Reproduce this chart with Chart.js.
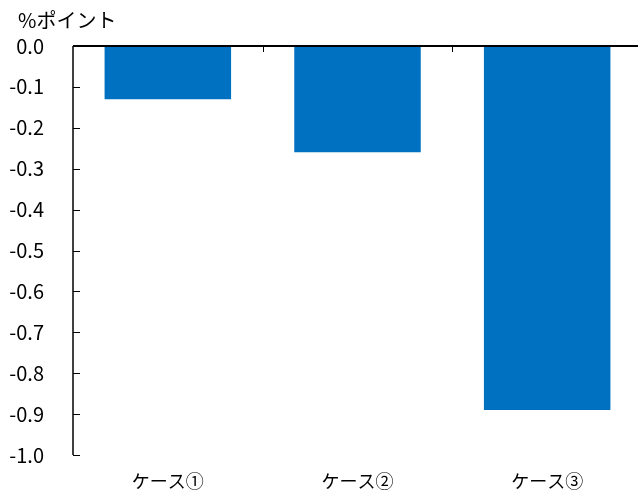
<!DOCTYPE html>
<html>
<head>
<meta charset="utf-8">
<script src="https://cdn.jsdelivr.net/npm/chart.js@4/dist/chart.umd.min.js"></script>
<style>
  html, body { margin: 0; padding: 0; background: #fff; overflow: hidden; }
  #wrap { width: 638px; height: 496px; overflow: hidden; }
</style>
</head>
<body>
<div id="wrap"><canvas id="c" width="642" height="496"></canvas></div>
<script>
// Change in percentage points for each case
const categories = ['ケース①', 'ケース②', 'ケース③'];
const values = [-0.13, -0.26, -0.89];
const unitLabel = '%ポイント';
const yMin = -1.0;
const yMax = 0.0;
const yStep = 0.1;

const FONT = '"Noto Sans CJK JP", "Noto Sans", sans-serif';

// Axis lines, inward tick marks, zero line and unit label
const axisDecor = {
  id: 'axisDecor',
  afterDraw(chart) {
    const { ctx, chartArea, scales } = chart;
    const x = scales.x, y = scales.y;
    const y0 = y.getPixelForValue(0);
    const left = chartArea.left, right = chartArea.right;
    ctx.save();
    ctx.strokeStyle = '#000';
    // vertical value axis
    ctx.lineWidth = 1.5;
    ctx.beginPath();
    ctx.moveTo(left, y.getPixelForValue(yMax));
    ctx.lineTo(left, y.getPixelForValue(yMin));
    ctx.stroke();
    // value ticks, pointing into the plot
    ctx.lineWidth = 1;
    y.ticks.forEach(t => {
      const py = Math.round(y.getPixelForValue(t.value)) + 0.5;
      ctx.beginPath();
      ctx.moveTo(left, py);
      ctx.lineTo(left + 7, py);
      ctx.stroke();
    });
    // category boundary ticks on the zero line
    for (let i = 1; i < categories.length; i++) {
      const bx = Math.round((x.getPixelForValue(i - 1) + x.getPixelForValue(i)) / 2) + 0.5;
      ctx.beginPath();
      ctx.moveTo(bx, y0);
      ctx.lineTo(bx, y0 + 6);
      ctx.stroke();
    }
    // zero line across the plot
    ctx.lineWidth = 2;
    ctx.beginPath();
    ctx.moveTo(left, y0);
    ctx.lineTo(right, y0);
    ctx.stroke();
    // unit label
    ctx.fillStyle = '#000';
    ctx.font = '20px ' + FONT;
    ctx.textAlign = 'left';
    ctx.textBaseline = 'middle';
    ctx.fillText(unitLabel, left - 55, chartArea.top - 26);
    ctx.restore();
  }
};

new Chart(document.getElementById('c'), {
  type: 'bar',
  data: {
    labels: categories,
    datasets: [{
      data: values,
      backgroundColor: '#0070C0',
      borderWidth: 0,
      barPercentage: 0.667,
      categoryPercentage: 1.0
    }]
  },
  options: {
    responsive: false,
    animation: false,
    layout: { padding: { top: 46, right: 0, bottom: 0, left: 0 } },
    plugins: {
      legend: { display: false },
      title: { display: false },
      tooltip: { enabled: false }
    },
    scales: {
      x: {
        position: 'bottom',
        grid: { display: false, drawTicks: false },
        border: { display: false },
        ticks: {
          color: '#000',
          padding: 15,
          font: { family: FONT, size: 18 },
          maxRotation: 0
        },
        afterFit(scale) { scale.height = 40; }
      },
      y: {
        min: yMin,
        max: yMax,
        grid: { display: false, drawTicks: false },
        border: { display: false },
        ticks: {
          stepSize: yStep,
          color: '#000',
          padding: 29,
          font: { family: FONT, size: 20 },
          callback: v => Number(v).toFixed(1)
        },
        afterFit(scale) { scale.width = 73; }
      }
    }
  },
  plugins: [axisDecor]
});
</script>
</body>
</html>
